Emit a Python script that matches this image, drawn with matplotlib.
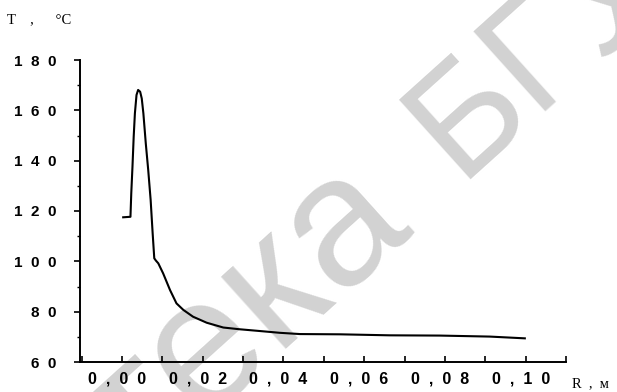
import matplotlib
matplotlib.use("Agg")
import matplotlib.pyplot as plt
from matplotlib.ticker import MultipleLocator, FuncFormatter
from matplotlib.transforms import ScaledTranslation

# radius, m
radius = [0.0003, 0.0021, 0.0023, 0.0026, 0.0029, 0.0032, 0.0036, 0.0040, 0.0045,
          0.0049, 0.0053, 0.0059, 0.0065, 0.0071, 0.0076, 0.0080, 0.0084, 0.0090,
          0.0102, 0.0119, 0.0135, 0.0152, 0.0176, 0.0210, 0.0251, 0.0292, 0.0342,
          0.0391, 0.0441, 0.0540, 0.0663, 0.0787, 0.0911, 0.0998]
# temperature, degC
temp = [117.5, 117.7, 127.0, 137.6, 149.5, 158.8, 166.1, 168.1, 167.4,
        164.7, 158.8, 146.8, 136.3, 124.4, 111.1, 101.2, 100.3, 99.2,
        95.2, 88.6, 83.3, 80.7, 78.0, 75.6, 73.7, 73.0, 72.3,
        71.6, 71.1, 71.0, 70.6, 70.5, 70.1, 69.4]

x_ticks = [0.0, 0.02, 0.04, 0.06, 0.08, 0.10]

watermark_left = "Библиотека"
watermark_right = "БГУИР"


def spaced(s):
    return "  ".join(s)


def main():
    fig = plt.figure(figsize=(6.17, 3.92), dpi=100)
    ax = fig.add_axes([80 / 617, 1 - 362 / 392, (566 - 80) / 617, (362 - 60) / 392])
    ax.patch.set_visible(False)

    # watermark under everything
    wm = dict(color="#d2d2d2", rotation=42, rotation_mode="anchor",
              va="baseline", family="Liberation Sans", zorder=-5)
    fig.text(458 / 617, 1 - 180 / 392, watermark_right, ha="left", fontsize=112, **wm)
    fig.text(412 / 617, 1 - 222 / 392, watermark_left, ha="right", fontsize=132, **wm)

    ax.plot(radius, temp, color="black", lw=1.5)

    ax.set_xlim(-0.0104, 0.11)
    ax.set_ylim(60, 180)
    ax.spines["top"].set_visible(False)
    ax.spines["right"].set_visible(False)
    ax.spines["left"].set_linewidth(1.4)
    ax.spines["bottom"].set_linewidth(1.4)

    ax.set_xticks(x_ticks)
    ax.xaxis.set_minor_locator(MultipleLocator(0.01))
    ax.yaxis.set_major_locator(MultipleLocator(20))
    ax.yaxis.set_minor_locator(MultipleLocator(10))

    ax.xaxis.set_major_formatter(FuncFormatter(lambda v, p: spaced(f"{v:.2f}".replace(".", ","))))
    ax.yaxis.set_major_formatter(FuncFormatter(lambda v, p: spaced(f"{v:.0f}")))

    ax.tick_params(axis="x", which="both", direction="in", length=4, width=1.2, pad=6.5)
    ax.tick_params(axis="y", which="major", direction="out", length=4, width=1.2, pad=13)
    ax.tick_params(axis="y", which="minor", direction="out", length=2, width=1.0)
    shift = ScaledTranslation(-5 / 100, 0, fig.dpi_scale_trans)
    for t in ax.xaxis.get_major_ticks():
        t.label1.set_transform(t.label1.get_transform() + shift)
        t.label1.set_fontfamily("Liberation Sans")
        t.label1.set_fontweight("bold")
        t.label1.set_fontsize(11.5)
    for lab in ax.get_yticklabels():
        lab.set_fontfamily("Liberation Sans")
        lab.set_fontweight("bold")
        lab.set_fontsize(11)

    fig.text(7 / 617, 1 - 23 / 392, "T    ,      °C", family="Liberation Serif",
             fontsize=10.5, va="baseline", ha="left")
    fig.text(572 / 617, 1 - 387 / 392, "R  ,  м", family="Liberation Serif",
             fontsize=10.5, va="baseline", ha="left")

    fig.savefig("out.png", dpi=100, facecolor="white")


if __name__ == "__main__":
    main()
